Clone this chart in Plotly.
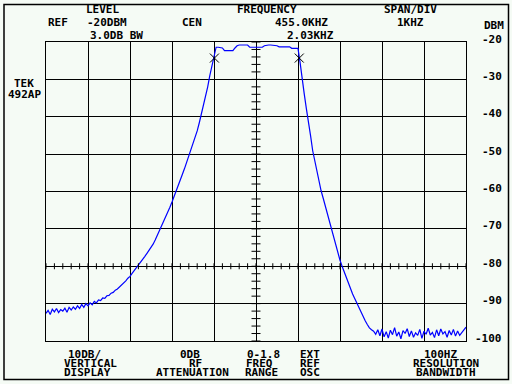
import plotly.graph_objects as go

# ---------------- data ----------------
F_START, F_STEP = 450.0, 0.05   # kHz sweep start / step (201 samples to 460 kHz)

dbm = [
    # 450.00 - 451.00
    -92.6, -91.8, -92.9, -91.5, -92.2, -91.3, -92.4, -91.6, -92.0, -91.2,
    -92.3, -91.0, -91.7, -90.9, -91.5, -90.6, -91.3, -90.2, -91.0, -90.0,
    -90.6,
    # 451.05 - 452.00
    -89.8, -90.3, -89.4, -89.8, -89.0, -89.2, -88.5, -88.6, -87.9, -87.8,
    -87.2, -87.0, -86.4, -86.1, -85.6, -85.0, -84.5, -83.9, -83.2, -82.7,
    # 452.05 - 453.00
    -81.9, -81.2, -80.4, -79.7, -78.9, -78.2, -77.4, -76.6, -75.8, -75.0,
    -74.1, -73.0, -71.8, -70.5, -69.3, -68.0, -66.8, -65.5, -64.2, -62.8,
    # 453.05 - 454.05
    -61.4, -59.9, -58.4, -56.9, -55.3, -53.8, -52.2, -50.7, -49.1, -47.5,
    -45.7, -43.8, -41.6, -39.2, -37.1, -35.0, -32.0, -29.0, -26.2, -24.0,
    -21.4,
    # 454.10 - 456.00
    -21.4, -21.4, -21.6, -22.3, -22.3, -22.3, -22.3, -22.3, -21.6, -21.0,
    -20.8, -20.8, -20.8, -20.8, -20.8, -21.4, -21.4, -21.4, -21.4, -21.4,
    -21.4, -21.4, -21.0, -20.8, -20.8, -20.8, -20.8, -20.8, -21.0, -21.3,
    -21.3, -21.3, -21.3, -21.3, -21.3, -21.7, -21.7, -21.7, -21.7,
    # 456.05 - 457.80
    -25.5, -30.2, -34.0, -37.9, -41.0, -45.1, -49.1, -51.9, -54.5, -57.3,
    -59.8, -61.8, -63.9, -66.0, -68.2, -70.2, -72.4, -74.3, -76.2, -78.4,
    -80.0, -81.6, -83.1, -84.6, -86.1, -87.4, -88.6, -89.9, -91.1, -92.4,
    -93.5, -94.6, -95.6, -96.5, -97.0, -97.4,
    # 457.85 - 460.00
    -98.2, -97.0, -98.6, -96.8, -98.9, -97.5, -99.2, -97.1, -98.3, -96.4,
    -98.7, -97.6, -99.4, -97.2, -98.0, -96.7, -98.8, -97.3, -99.0, -97.8,
    -98.5, -96.9, -99.3, -97.4, -98.2, -96.6, -98.4, -97.7, -99.1, -97.0,
    -98.6, -96.8, -98.1, -97.5, -99.0, -97.2, -98.4, -96.9, -98.7, -97.3,
    -98.5, -97.6, -97.0, -96.3,
]
freq = [round(F_START + F_STEP * i, 3) for i in range(len(dbm))]

marker_freq = [454.01, 456.03]
marker_dbm = [-24.3, -24.3]

y_labels = ["-20", "-30", "-40", "-50", "-60", "-70", "-80", "-90", "-100"]
y_vals = [-20, -30, -40, -50, -60, -70, -80, -90, -100]

# ---------------- layout helpers ----------------
W, H = 512, 384
L, R, T, B = 46, 46, 42, 43
PW, PH = W - L - R, H - T - B


def px(x):
    return (x - L) / PW


def py(y):
    return (H - B - y) / PH


FONT = dict(family="DejaVu Sans Mono", size=11, color="black", weight="bold")
BG = "#f5fbf5"

fig = go.Figure()

fig.add_trace(go.Scatter(x=freq, y=dbm, mode="lines",
                         line=dict(color="#0000ff", width=1.2),
                         hoverinfo="skip", showlegend=False))
fig.add_trace(go.Scatter(x=marker_freq, y=marker_dbm, mode="markers",
                         marker=dict(symbol="x-thin", size=9,
                                     line=dict(color="black", width=1)),
                         hoverinfo="skip", showlegend=False))

shapes = []
# minor ticks along the -80 dBm line
for i in range(51):
    f = 450 + 0.2 * i
    shapes.append(dict(type="line", xref="x", yref="y", x0=f, x1=f,
                       y0=-80 - 0.8, y1=-80 + 0.8,
                       line=dict(color="black", width=1)))
# minor ticks along the centre-frequency line
for i in range(41):
    d = -100 + 2 * i
    shapes.append(dict(type="line", xref="x", yref="y", x0=455 - 0.107,
                       x1=455 + 0.107, y0=d, y1=d,
                       line=dict(color="black", width=1)))
# outer frame of the screen
shapes.append(dict(type="rect", xref="paper", yref="paper",
                   x0=px(4), x1=px(508.5), y0=py(379.5), y1=py(4.5),
                   line=dict(color="black", width=1.5), layer="below"))

texts = [
    ("LEVEL", 102.7, 9.7), ("REF", 58.3, 22.7), ("-20DBM", 106.7, 22.7),
    ("CEN", 191.5, 22.7), ("3.0DB BW", 116.7, 35.0),
    ("FREQUENCY", 267.0, 9.7), ("455.0KHZ", 301.5, 22.7),
    ("2.03KHZ", 310.2, 35.0), ("SPAN/DIV", 410.5, 9.7), ("1KHZ", 410.5, 22.7),
    ("DBM", 493.5, 25.0), ("TEK", 24.0, 83.3), ("492AP", 24.0, 94.3),
    ("10DB/", 84.2, 354.5), ("VERTICAL", 90.0, 363.7), ("DISPLAY", 87.5, 372.7),
    ("0DB", 190.0, 354.5), ("RF", 195.5, 363.7), ("ATTENUATION", 192.8, 372.7),
    ("0-1.8", 263.0, 354.5), ("FREQ", 259.7, 363.7), ("RANGE", 261.0, 372.7),
    ("EXT", 310.2, 354.5), ("REF", 309.8, 363.7), ("OSC", 310.0, 372.7),
    ("100HZ", 440.3, 354.5), ("RESOLUTION", 445.7, 363.7),
    ("BANDWIDTH", 446.0, 372.7),
]
annotations = [dict(text=t, x=px(x), y=py(y), xref="paper", yref="paper",
                    xanchor="center", yanchor="middle", showarrow=False,
                    font=FONT) for t, x, y in texts]
for lab, v in zip(y_labels, y_vals):
    annotations.append(dict(text=lab, x=px(504.5), y=v, xref="paper", yref="y",
                            xanchor="right", yanchor="middle", yshift=3,
                            showarrow=False, font=FONT))

fig.update_layout(
    width=W, height=H, margin=dict(l=L, r=R, t=T, b=B, pad=0),
    paper_bgcolor=BG, plot_bgcolor=BG, showlegend=False,
    shapes=shapes, annotations=annotations,
    xaxis=dict(range=[450, 460], dtick=1, tick0=450, showgrid=True,
               gridcolor="black", gridwidth=1, zeroline=False,
               showticklabels=False, ticks="", showline=True,
               linecolor="black", linewidth=1, mirror=True, fixedrange=True),
    yaxis=dict(range=[-100, -20], dtick=10, tick0=-100, showgrid=True,
               gridcolor="black", gridwidth=1, zeroline=False,
               showticklabels=False, ticks="", showline=True,
               linecolor="black", linewidth=1, mirror=True, fixedrange=True),
)

fig.write_html(
    "out.html",
    config={"displayModeBar": False, "staticPlot": True},
    post_script="document.body.style.margin='0';document.body.style.overflow='hidden';",
)
